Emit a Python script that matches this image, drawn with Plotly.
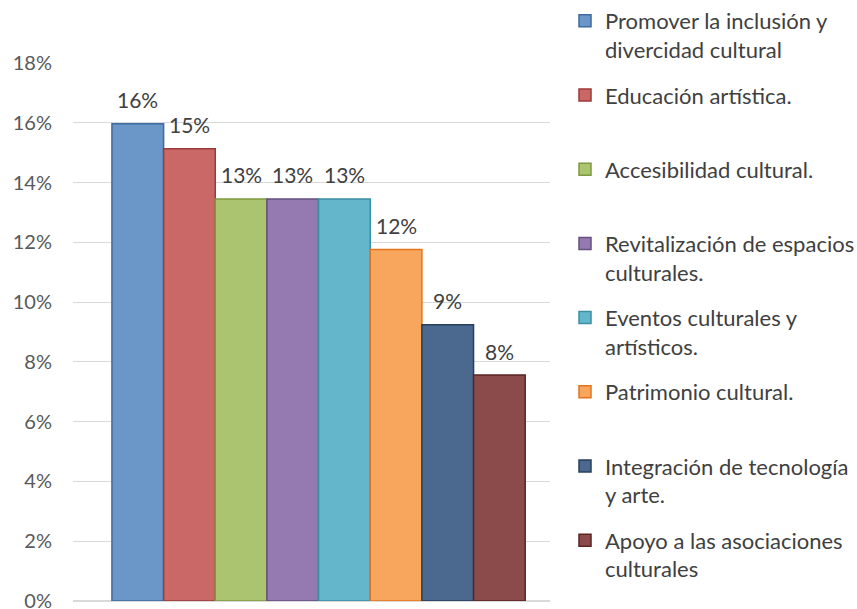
import plotly.graph_objects as go

# Datos del gráfico
categorias = [
    "Promover la inclusión y<br>divercidad cultural",
    "Educación artística.",
    "Accesibilidad cultural.",
    "Revitalización de espacios<br>culturales.",
    "Eventos culturales y<br>artísticos.",
    "Patrimonio cultural.",
    "Integración de tecnología<br>y arte.",
    "Apoyo a las asociaciones<br>culturales",
]
valores = [0.1597, 0.1513, 0.1345, 0.1345, 0.1345, 0.1176, 0.0924, 0.0756]
etiquetas_y = ["0%", "2%", "4%", "6%", "8%", "10%", "12%", "14%", "16%", "18%"]
ticks_y = [0, 0.02, 0.04, 0.06, 0.08, 0.10, 0.12, 0.14, 0.16, 0.18]

rellenos = ["#6A96C8", "#C96866", "#AAC46F", "#947AB0",
            "#64B6CB", "#F8A65E", "#4B698E", "#8B4B4A"]
bordes = ["#3F6A9E", "#9B3A38", "#7D9A40", "#65507F",
          "#3A8FA5", "#E4741C", "#2A3F5C", "#5C2423"]

fuente = "Lato"

fig = go.Figure()

for i, (nombre, v) in enumerate(zip(categorias, valores)):
    # todas las entradas de la leyenda con dos lineas para que ocupen lo mismo
    texto = nombre if "<br>" in nombre else nombre + "<br> "
    fig.add_trace(go.Bar(
        x=[i],
        y=[v],
        width=1,
        name=texto,
        legendgroup=str(i),
        marker=dict(color=rellenos[i], line=dict(color=bordes[i], width=1.5)),
        hoverinfo="skip",
    ))
    fig.add_annotation(
        x=i, y=v, text=f"{round(v * 100)}%", showarrow=False,
        yshift=24, yanchor="middle",
        font=dict(family=fuente, size=21, color="#404040"),
    )

fig.update_layout(
    width=857,
    height=609,
    margin=dict(l=73, r=307, t=63, b=8, autoexpand=False),
    paper_bgcolor="white",
    plot_bgcolor="white",
    barmode="overlay",
    font=dict(family=fuente, size=21, color="#404040"),
    showlegend=True,
    legend=dict(
        x=(565 - 73) / 477, xanchor="left",
        y=1.0, yanchor="top", yref="container",
        valign="top",
        traceorder="grouped",
        tracegroupgap=14,
        maxheight=640,
        font=dict(family=fuente, size=22, color="#404040"),
    ),
    xaxis=dict(
        range=[-1.254, 7.98],
        showgrid=False, zeroline=False, showline=False,
        showticklabels=False, ticks="",
    ),
    yaxis=dict(
        range=[0, 0.18],
        tickvals=ticks_y, ticktext=etiquetas_y,
        showgrid=True, gridcolor="#D9D9D9", gridwidth=1.3,
        zeroline=True, zerolinecolor="#D9D9D9", zerolinewidth=1.5,
        showline=False, ticks="",
        ticklabelstandoff=20,
        ticklabeloverflow="allow",
        tickfont=dict(family=fuente, size=20, color="#595959"),
    ),
)

# quitar el margen por defecto del body para que la figura quede en (0, 0)
fig.write_html(
    "out.html",
    config={"displayModeBar": False},
    post_script="document.body.style.margin = '0';",
)
